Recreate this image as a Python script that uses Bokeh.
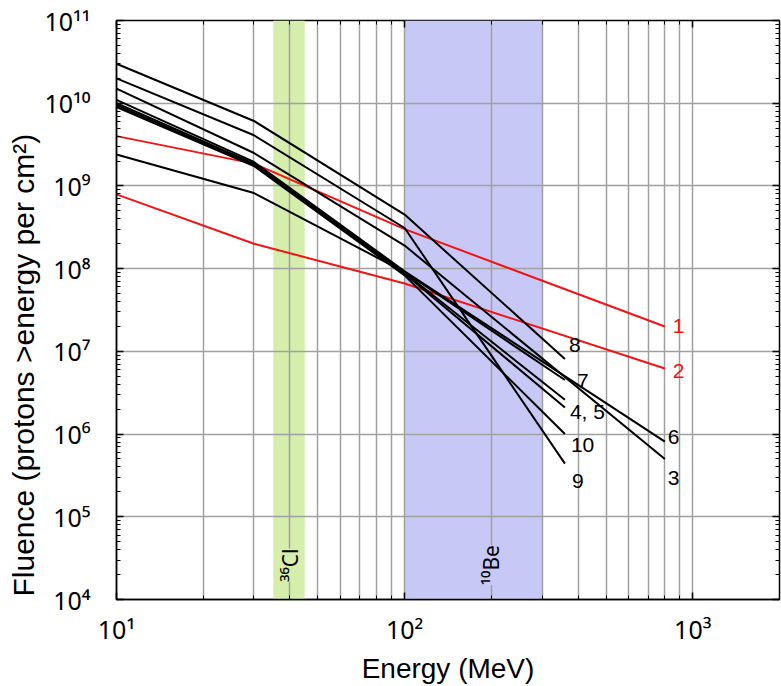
from bokeh.plotting import figure
from bokeh.models import (LogAxis, FixedTicker, CustomJSTickFormatter, BoxAnnotation,
                          Label, ColumnDataSource, Range1d, Title)
from bokeh.embed import file_html
from bokeh.resources import INLINE
from bokeh.core.properties import value

# ---------------- data ----------------
energy_long = [10, 30, 100, 800]     # MeV, curves extended to 800 MeV
energy_short = [10, 30, 100, 360]    # MeV, curves ending at ~360 MeV

curve_ids = ["1", "2", "3", "4", "5", "6", "7", "8", "9", "10"]
fluence_1 = [4.0e9, 1.86e9, 3.0e8, 2.0e7]
fluence_2 = [7.9e8, 2.0e8, 6.6e7, 6.2e6]
fluence_3 = [1.5e10, 2.5e9, 1.9e8, 5.0e5]
fluence_4 = [1.0e10, 1.86e9, 8.9e7, 2.6e6]
fluence_5 = [9.5e9, 1.78e9, 8.7e7, 2.1e6]
fluence_6 = [1.1e10, 1.95e9, 9.3e7, 8.1e5]
fluence_7 = [2.4e9, 8.2e8, 9.1e7, 4.5e6]
fluence_8 = [3.0e10, 6.1e9, 4.5e8, 8.1e6]
fluence_9 = [2.0e10, 4.1e9, 3.1e8, 4.4e5]
fluence_10 = [9.0e9, 1.74e9, 8.3e7, 1.0e6]
curve_labels = ["1", "2", "3", "4, 5", "", "6", "7", "8", "9", "10"]

cl36_band = [35, 45]      # MeV
be10_band = [100, 300]    # MeV
band_names = ["\u00b3\u2076Cl", "\u00b9\u2070Be"]
band_label_energy = [40, 200]

x_tick_values = [10, 100, 1000]
y_tick_values = [1e4, 1e5, 1e6, 1e7, 1e8, 1e9, 1e10, 1e11]

# ---------------- styles ----------------
FONT = "Liberation Sans"
SUP_FONT = "Noto Sans"
RED = "#f01414"
BLACK = "#000000"
GREEN_BAND = "#d5eeac"
BLUE_BAND = "#c8c8f6"
GRID = "#a0a0a0"

W, H = 781, 686
BL, BR, BT, BB = 116, 2, 20, 86

energies = {"1": energy_long, "2": energy_long, "3": energy_long, "6": energy_long}
fluences = [fluence_1, fluence_2, fluence_3, fluence_4, fluence_5,
            fluence_6, fluence_7, fluence_8, fluence_9, fluence_10]
colors = [RED, RED] + [BLACK] * 8
# label offsets in screen pixels (x right, y down)
label_dx = [8, 8, 3, 5, 0, 3, 12, 4, 7, 6]
label_dy = [0, 2, 19, 12, 0, -5, 1, -14, 17, 11]

p = figure(width=W, height=H, x_axis_type="log", y_axis_type="log",
           x_range=Range1d(10, 2000), y_range=Range1d(1e4, 1e11),
           output_backend="svg", toolbar_location=None,
           min_border_left=BL, min_border_right=BR, min_border_top=BT,
           min_border_bottom=BB)
p.background_fill_color = "white"
p.border_fill_color = "white"
p.outline_line_color = "black"
p.outline_line_width = 1.5

# bands (below the grid)
p.add_layout(BoxAnnotation(left=cl36_band[0], right=cl36_band[1], fill_color=GREEN_BAND,
                           fill_alpha=1.0, line_color=None, level="image"))
p.add_layout(BoxAnnotation(left=be10_band[0], right=be10_band[1], fill_color=BLUE_BAND,
                           fill_alpha=1.0, line_color=None, level="image"))

sup_code = """
const sup = {"0":"\u2070","1":"\u00b9","2":"\u00b2","3":"\u00b3","4":"\u2074",
             "5":"\u2075","6":"\u2076","7":"\u2077","8":"\u2078","9":"\u2079","-":"\u207b"};
const e = Math.round(Math.log10(tick));
return "10" + String(e).split("").map(c => sup[c]).join("");
"""

x_minor = [m * 10 ** k for k in (1, 2, 3) for m in range(2, 10)] + [2000]
y_minor = [m * 10 ** k for k in range(4, 11) for m in range(2, 10)]

xt = FixedTicker(ticks=x_tick_values, minor_ticks=x_minor)
yt = FixedTicker(ticks=y_tick_values, minor_ticks=y_minor)

p.xaxis.ticker = xt
p.yaxis.ticker = yt
p.xaxis.formatter = CustomJSTickFormatter(code=sup_code)
p.yaxis.formatter = CustomJSTickFormatter(code=sup_code)

for ax in (p.xaxis[0], p.yaxis[0]):
    ax.major_tick_in = 7
    ax.major_tick_out = 0
    ax.minor_tick_in = 4
    ax.minor_tick_out = 0
    ax.axis_line_width = 1.5
    ax.major_tick_line_width = 1.5
    ax.minor_tick_line_width = 1
    ax.major_label_text_font = SUP_FONT
    ax.major_label_text_font_size = "25px"
    ax.major_label_text_color = "black"
    ax.axis_label_text_font = FONT
    ax.axis_label_text_font_size = "28px"
    ax.axis_label_text_font_style = "normal"
    ax.axis_label_text_color = "black"

p.xaxis.axis_label = "Energy (MeV)"
p.xaxis.major_label_standoff = 12
p.xaxis.axis_label_standoff = 4
p.yaxis.major_label_standoff = 26

# top/right tick-only axes
for loc, ticker in (("above", xt), ("right", yt)):
    a = LogAxis(ticker=ticker, formatter=CustomJSTickFormatter(code="return '';"))
    a.major_tick_in = 7
    a.major_tick_out = 0
    a.minor_tick_in = 4
    a.minor_tick_out = 0
    a.major_label_standoff = 0
    a.major_label_text_font_size = "0px"
    a.axis_line_color = None
    a.major_tick_line_width = 1.5
    p.add_layout(a, loc)

# y-axis title as a side title (bottom-aligned like the reference)
p.add_layout(Title(text="Fluence (protons >energy per cm\u00b2)", align="left", offset=3,
                   text_font=FONT, text_font_size="30px", text_font_style="normal",
                   text_color="black", standoff=4), "left")

# grid
p.xgrid.ticker = xt
p.ygrid.ticker = yt
p.xgrid.grid_line_color = GRID
p.xgrid.grid_line_width = 1.5
p.xgrid.minor_grid_line_color = GRID
p.xgrid.minor_grid_line_width = 1.5
p.ygrid.grid_line_color = GRID
p.ygrid.grid_line_width = 1.5
p.ygrid.minor_grid_line_color = None

# curves
end_x, end_y = [], []
for cid, fl, col in zip(curve_ids, fluences, colors):
    en = energies.get(cid, energy_short)
    p.line(en, fl, line_color=col, line_width=2)
    end_x.append(en[-1])
    end_y.append(fl[-1])

lab_src = ColumnDataSource(dict(x=end_x, y=end_y, text=curve_labels, color=colors,
                                dx=label_dx, dy=label_dy))
p.text(x="x", y="y", text="text", source=lab_src, text_color="color",
       x_offset="dx", y_offset="dy", text_font=value(FONT), text_font_size="21px",
       text_align="left", text_baseline="middle")

# band labels
for name, ex, bg in zip(band_names, band_label_energy, (GREEN_BAND, BLUE_BAND)):
    p.add_layout(Label(x=ex, y=2.6e4, text=name, angle=1.5708, text_font=SUP_FONT,
                       text_font_size="21px", text_align="center", text_baseline="middle",
                       background_fill_color=bg, background_fill_alpha=1.0,
                       text_color="black"))

open("out.html", "w").write(file_html(p, INLINE))
